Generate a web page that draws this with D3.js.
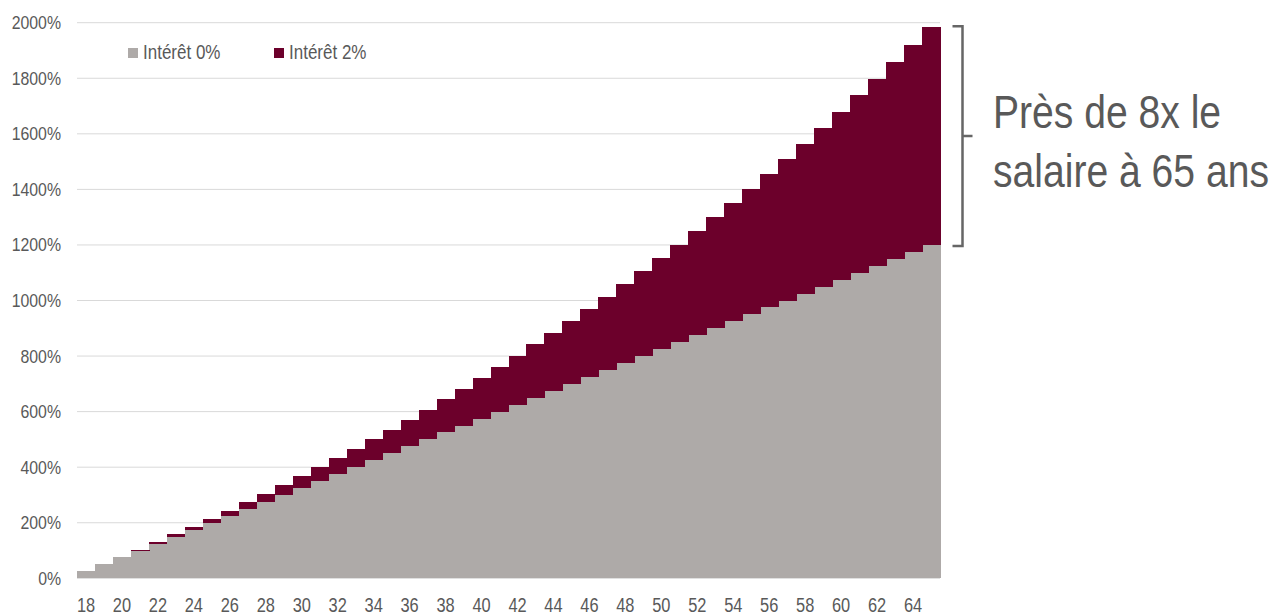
<!DOCTYPE html>
<html>
<head>
<meta charset="utf-8">
<script src="https://cdn.jsdelivr.net/npm/d3@7"></script>
<style>
  body { margin: 0; background: #fff; }
  text { font-family: "Liberation Sans", Arial, sans-serif; fill: #595959; }
</style>
</head>
<body>
<div id="chart"></div>
<script>
// ages 18..65
const ages = [18, 19, 20, 21, 22, 23, 24, 25, 26, 27, 28, 29, 30, 31, 32, 33,
    34, 35, 36, 37, 38, 39, 40, 41, 42, 43, 44, 45, 46, 47, 48, 49,
    50, 51, 52, 53, 54, 55, 56, 57, 58, 59, 60, 61, 62, 63, 64, 65];

// cumulative savings, % of salary, no interest
const interet0 = [25, 50, 75, 100, 125, 150, 175, 200, 225, 250, 275, 300, 325, 350, 375, 400,
    425, 450, 475, 500, 525, 550, 575, 600, 625, 650, 675, 700, 725, 750, 775, 800,
    825, 850, 875, 900, 925, 950, 975, 1000, 1025, 1050, 1075, 1100, 1125, 1150, 1175, 1200];

// cumulative savings, % of salary, 2% interest (total height of stack)
const interet2 = [25, 50, 77, 103, 130, 158, 186, 215, 244, 274, 304, 335, 367, 399, 432, 466,
    500, 535, 571, 607, 645, 682, 721, 761, 801, 842, 884, 926, 970, 1014, 1059, 1106,
    1153, 1201, 1250, 1300, 1351, 1403, 1456, 1510, 1565, 1622, 1679, 1738, 1797, 1858, 1920, 1984];

const yTicks = [0, 200, 400, 600, 800, 1000, 1200, 1400, 1600, 1800, 2000];
const xTickAges = ages.filter(a => a % 2 === 0);

const legendItems = [
    { label: 'Intérêt 0%', color: '#aeaaa8' },
    { label: 'Intérêt 2%', color: '#6c002b' }
];

const noteLines = ['Près de 8x le', 'salaire à 65 ans'];

const width = 1276, height = 615;

const svg = d3.select('#chart').append('svg')
    .attr('width', width)
    .attr('height', height);

const x = d3.scaleBand()
    .domain(ages)
    .range([77, 940])
    .padding(0);

const y = d3.scaleLinear()
    .domain([0, 2000])
    .range([578.3, 22.7]);

// gridlines
svg.append('g')
    .selectAll('line')
    .data(yTicks)
    .join('line')
    .attr('x1', 77)
    .attr('x2', 940)
    .attr('y1', d => y(d))
    .attr('y2', d => y(d))
    .attr('stroke', '#d9d9d9')
    .attr('stroke-width', 1);

// the reference type is narrow, so texts are squeezed horizontally
const yLab = svg.append('g').selectAll('g').data(yTicks).join('g')
    .attr('transform', d => `translate(61,${y(d) + 6.5}) scale(0.88,1)`);
yLab.append('text')
    .attr('text-anchor', 'end')
    .attr('font-size', 18)
    .text(d => d + '%');

// stacked bars
const rows = ages.map((a, i) => ({ age: a, base: interet0[i], total: interet2[i] }));

svg.append('g')
    .attr('shape-rendering', 'crispEdges')
    .selectAll('rect')
    .data(rows)
    .join('rect')
    .attr('x', d => x(d.age))
    .attr('width', x.bandwidth() + 0.6)
    .attr('y', d => y(d.base))
    .attr('height', d => y(0) - y(d.base))
    .attr('fill', legendItems[0].color);

svg.append('g')
    .attr('shape-rendering', 'crispEdges')
    .selectAll('rect')
    .data(rows)
    .join('rect')
    .attr('x', d => x(d.age))
    .attr('width', x.bandwidth() + 0.6)
    .attr('y', d => y(d.total))
    .attr('height', d => y(d.base) - y(d.total))
    .attr('fill', legendItems[1].color);

// x labels
const xLab = svg.append('g').selectAll('g').data(xTickAges).join('g')
    .attr('transform', d => `translate(${x(d) + x.bandwidth() / 2},611.5) scale(0.8,1)`);
xLab.append('text')
    .attr('text-anchor', 'middle')
    .attr('font-size', 20.5)
    .text(d => d);

// legend
const legend = svg.append('g')
    .selectAll('g')
    .data(legendItems)
    .join('g')
    .attr('transform', (d, i) => `translate(128,48) translate(${i * 146},0)`);

legend.append('rect')
    .attr('width', 10)
    .attr('height', 10)
    .attr('fill', d => d.color);

legend.append('g')
    .attr('transform', 'translate(15,10.5) scale(0.85,1)')
    .append('text')
    .attr('font-size', 20)
    .text(d => d.label);

// bracket on the right
const yTop = y(d3.max(interet2)) - 1;
const yBot = y(d3.max(interet0)) + 1;
const bx = 962.5;
svg.append('path')
    .attr('d', `M${bx - 10},${yTop} H${bx} V${yBot} H${bx - 10} M${bx},${(yTop + yBot) / 2} H${bx + 10}`)
    .attr('fill', 'none')
    .attr('stroke', '#666')
    .attr('stroke-width', 2.5);

const note = svg.append('g').selectAll('g').data(noteLines).join('g')
    .attr('transform', (d, i) => `translate(993,${128 + i * 59}) scale(0.85,1)`);
note.append('text')
    .attr('font-size', 46)
    .text(d => d);
</script>
</body>
</html>
